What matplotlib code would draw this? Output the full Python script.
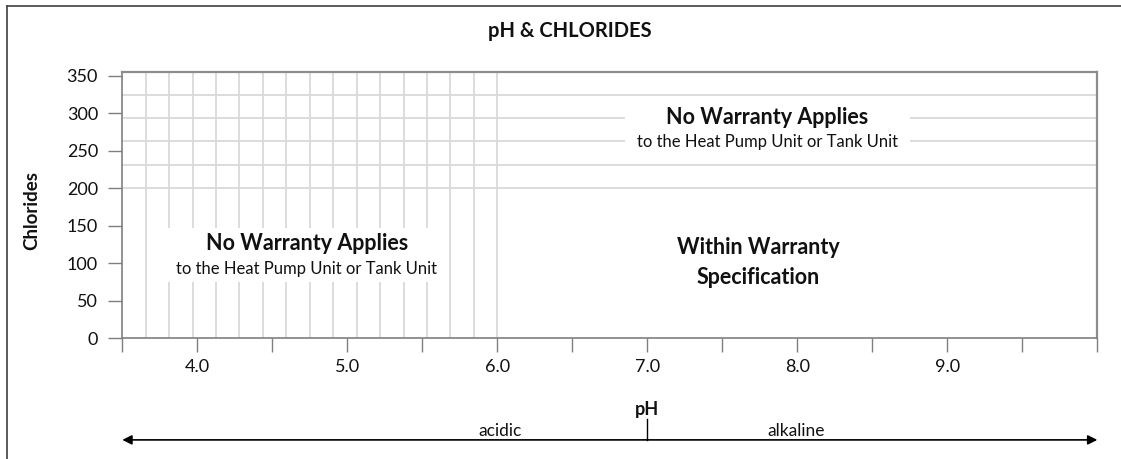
import numpy as np
import matplotlib
matplotlib.use("Agg")
import matplotlib.pyplot as plt
from matplotlib.lines import Line2D
from matplotlib.patches import Rectangle
from matplotlib.transforms import Bbox, IdentityTransform

# 軸の目盛りとラベル
ph_ticks = [3.5, 4.0, 4.5, 5.0, 5.5, 6.0, 6.5, 7.0, 7.5, 8.0, 8.5, 9.0, 9.5, 10.0]
ph_labels = ["", "4.0", "", "5.0", "", "6.0", "", "7.0", "", "8.0", "", "9.0", "", ""]
chloride_ticks = [0, 50, 100, 150, 200, 250, 300, 350]

# 範囲
ph_min, ph_max = 3.5, 10.0
chloride_max = 354.7
acid_limit = 6.0        # これより左は保証外
chloride_limit = 200    # これより上は保証外
neutral_ph = 7.0

# グリッド線（左側の縦線、上側の横線）
acid_grid = np.linspace(ph_min, acid_limit, 17)[1:]
chloride_grid = [200, 231, 263, 294, 325]

# ゾーンの文字
zone_title = "No Warranty Applies"
zone_sub = "to the Heat Pump Unit or Tank Unit"
ok_text = "Within Warranty\nSpecification"

plt.rcParams["font.family"] = ["Lato", "DejaVu Sans"]

fig = plt.figure(figsize=(11.21, 4.59), dpi=100)
ax = fig.add_axes([0.1091, 0.2630, 0.8698, 0.5795])

grid_color = "#d9d9d9"
for x in acid_grid:
    ax.axvline(x, color=grid_color, lw=1.3, zorder=1)
for y in chloride_grid:
    ax.axhline(y, color=grid_color, lw=1.3, zorder=1)

ax.set_xlim(ph_min, ph_max)
ax.set_ylim(0, chloride_max)
ax.set_xticks(ph_ticks)
ax.set_xticklabels(ph_labels)
ax.set_yticks(chloride_ticks)

ax.tick_params(axis="both", direction="out", length=10, width=1.0, color="#7f7f7f",
               labelsize=13, labelcolor="#111111")
ax.tick_params(axis="x", pad=5)
ax.tick_params(axis="y", pad=7.5)

for side in ["left", "bottom"]:
    ax.spines[side].set_color("#7f7f7f")
    ax.spines[side].set_linewidth(1.2)
for side in ["top", "right"]:
    ax.spines[side].set_color("#8c8c8c")
    ax.spines[side].set_linewidth(1.6)

# ゾーンのラベル
left_x = 4.73
t1 = ax.text(left_x, 127, zone_title, ha="center", va="center", fontsize=15.5,
             fontweight="bold", color="#111111", zorder=4)
t2 = ax.text(left_x, 92, zone_sub, ha="center", va="center", fontsize=12,
             color="#111111", zorder=4)

right_x = 7.8
t3 = ax.text(right_x, 295, zone_title, ha="center", va="center", fontsize=15.5,
             fontweight="bold", color="#111111", zorder=4)
t4 = ax.text(right_x, 262, zone_sub, ha="center", va="center", fontsize=12,
             color="#111111", zorder=4)

ax.text(7.74, 101, ok_text, ha="center", va="center", fontsize=15.5,
        fontweight="bold", color="#111111", linespacing=1.55, zorder=4)

# 文字の後ろを白く塗ってグリッドを隠す
fig.canvas.draw()
renderer = fig.canvas.get_renderer()
for pair in [(t1, t2), (t3, t4)]:
    bb = Bbox.union([t.get_window_extent(renderer) for t in pair])
    pad_x, pad_y = 12, 5
    mask = Rectangle((bb.x0 - pad_x, bb.y0 - pad_y), bb.width + 2 * pad_x,
                     bb.height + 2 * pad_y, transform=IdentityTransform(),
                     facecolor="white", edgecolor="none", zorder=2)
    ax.add_patch(mask)

# 軸ラベル
ax.set_xlabel("pH", fontsize=13, fontweight="bold", color="#111111")
ax.xaxis.set_label_coords((neutral_ph - ph_min) / (ph_max - ph_min), -0.235)
ax.set_ylabel("Chlorides", fontsize=13.5, fontweight="bold", color="#111111")
ax.yaxis.set_label_coords(-0.0844, 0.482)

# 酸性／アルカリ性の矢印
trans = ax.get_xaxis_transform()
arrow_y = -0.382
for end in (ph_min, ph_max):
    ax.annotate("", xy=(end, arrow_y), xytext=(neutral_ph, arrow_y), xycoords=trans,
                textcoords=trans, annotation_clip=False,
                arrowprops=dict(arrowstyle="-|>", color="black", lw=1.2,
                                mutation_scale=14, shrinkA=0, shrinkB=0))
ax.plot([neutral_ph, neutral_ph], [-0.303, arrow_y], transform=trans, color="black",
        lw=1.0, clip_on=False)
ax.text(6.02, -0.35, "acidic", transform=trans, ha="center", va="center", fontsize=12.5,
        color="#111111")
ax.text(7.99, -0.35, "alkaline", transform=trans, ha="center", va="center", fontsize=12.5,
        color="#111111")

# タイトル
fig.text(570 / 1121, 1 - 31 / 459, "pH & CHLORIDES", ha="center", va="center",
         fontsize=14.5, fontweight="bold", color="#111111")

# 外枠（左と上だけ見えている）
fig.add_artist(Line2D([7 / 1121, 7 / 1121], [0, 1 - 6 / 459], color="#404040", lw=1.2))
fig.add_artist(Line2D([7 / 1121, 1], [1 - 6 / 459, 1 - 6 / 459], color="#404040", lw=1.2))

plt.savefig("out.png", dpi=100)
